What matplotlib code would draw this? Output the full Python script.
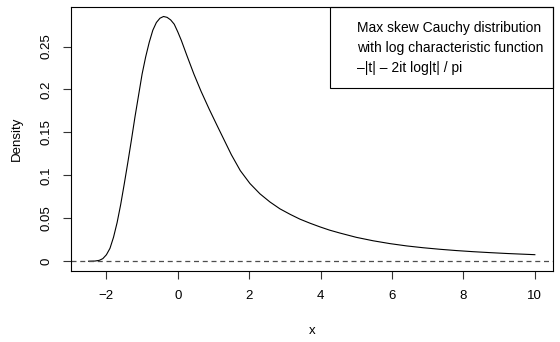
import matplotlib
matplotlib.use("Agg")
import matplotlib.pyplot as plt
from matplotlib.patches import Rectangle

plt.rcParams['font.family'] = ['Liberation Sans', 'DejaVu Sans']

# ---------- data ----------
x_vals = [-2.5, -2.32, -2.2, -2.1, -2.0, -1.9, -1.8, -1.7, -1.6, -1.5,
          -1.4, -1.3, -1.2, -1.1, -1.0, -0.9, -0.8, -0.7, -0.6, -0.5,
          -0.4, -0.3, -0.2, -0.1, 0.0, 0.1, 0.25, 0.45, 0.65, 0.88,
          1.1, 1.3, 1.5, 1.75, 2.02, 2.3, 2.58, 2.86, 3.15, 3.42,
          3.7, 3.98, 4.25, 4.54, 5.0, 5.47, 5.94, 6.41, 6.87, 7.34,
          7.8, 8.27, 8.74, 9.21, 9.6, 10.0]
density = [0.0, 0.0002, 0.001, 0.003, 0.0075, 0.015, 0.028, 0.045, 0.066, 0.090,
           0.115, 0.141, 0.168, 0.193, 0.218, 0.238, 0.255, 0.269, 0.278, 0.283,
           0.285, 0.284, 0.281, 0.276, 0.267, 0.257, 0.240, 0.218, 0.198, 0.177,
           0.158, 0.141, 0.124, 0.1055, 0.0905, 0.0785, 0.069, 0.061, 0.0545, 0.0490,
           0.0443, 0.0400, 0.0362, 0.0328, 0.0278, 0.0238, 0.0205, 0.0178, 0.0157, 0.0139,
           0.0124, 0.0111, 0.0100, 0.0090, 0.0083, 0.0076]
x_ticks = [-2, 0, 2, 4, 6, 8, 10]
y_ticks = [0, 0.05, 0.1, 0.15, 0.2, 0.25]
y_labels = ['0', '0.05', '0.1', '0.15', '0.2', '0.25']
legend_lines = ['Max skew Cauchy distribution',
                'with log characteristic function',
                '\u2013|t| \u2013 2it log|t| / pi']

# ---------- figure ----------
W, H = 560, 342
fig = plt.figure(figsize=(W / 100, H / 100), dpi=100)
left, right, top, bottom = 70.7, 552.7, 6.7, 271.0
ax = fig.add_axes([left / W, 1 - bottom / H, (right - left) / W, (bottom - top) / H])

ax.plot(x_vals, density, color='black', lw=0.8)
ax.axhline(0, color='0.3', lw=0.9, dashes=(4, 3))

ax.set_xlim(-3.0, 10.5)
ax.set_ylim(-0.0114, 0.2964)
ax.set_xticks(x_ticks)
ax.set_xticklabels([str(t).replace('-', '\u2212') for t in x_ticks])
ax.set_yticks(y_ticks)
ax.set_yticklabels(y_labels, rotation=90, va='center')
ax.tick_params(length=6, width=0.8, labelsize=9.5, color='0.2')
ax.tick_params(axis='x', pad=8)
ax.tick_params(axis='y', pad=7)
for s in ax.spines.values():
    s.set_linewidth(0.8)

fig.text(16.7 / W, 1 - 138.8 / H, 'Density', rotation=90, ha='center', va='center', fontsize=9.5)
fig.text(311.7 / W, 1 - 331 / H, 'x', ha='center', va='center', fontsize=9.5)

# legend box
bx0 = (330 - left) / (right - left)
by0 = (bottom - 88.3) / (bottom - top)
ax.add_patch(Rectangle((bx0, by0), 1 - bx0, 1 - by0, transform=ax.transAxes,
                       fill=False, lw=0.8, ec='black', clip_on=False))
tx = (356.7 - left) / (right - left)
for ly, txt in zip([28.3, 48.3, 68.3], legend_lines):
    ax.text(tx, (bottom - ly) / (bottom - top), txt, transform=ax.transAxes,
            ha='left', va='center', fontsize=10)

fig.savefig('out.png', dpi=100)
